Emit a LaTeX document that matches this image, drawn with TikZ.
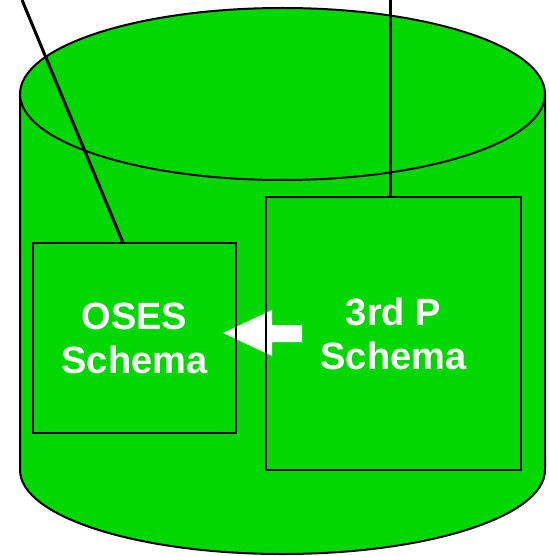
\documentclass[tikz,border=0pt]{standalone}
\usepackage{fontspec}
\setmainfont{Liberation Sans}
\usepackage{xcolor}
\usepackage{tikz}
\definecolor{dbgreen}{RGB}{0,216,0}

\begin{document}
\begin{tikzpicture}[x=1pt, y=-1pt,
    schemabox/.style={draw, line width=2pt, inner sep=0pt, align=center,
        text=white, font=\fontsize{38}{44}\selectfont\bfseries},
    link/.style={line width=3pt},
    outline/.style={draw=black, line width=2pt}]
\useasboundingbox (0,0) rectangle (548,556);

% Database cylinder
\fill[dbgreen] (20,94) rectangle (545,470);
\fill[dbgreen] (282.5,470) ellipse[x radius=262.5, y radius=84];
\draw[outline] (20,94) -- (20,470) arc[start angle=180, end angle=0, x radius=262.5, y radius=84] -- (545,94);
\draw[outline, fill=dbgreen] (282.5,94) ellipse[x radius=262.5, y radius=86];

% Copy arrow (drawn below the box outlines)
\fill[white] (302,325) -- (272,325) -- (272,310) -- (223,333) -- (272,356) -- (272,342) -- (302,342) -- cycle;

% Schemas
\node[schemabox, minimum width=203pt, minimum height=190pt] (oses) at (134.5,338) {OSES\\Schema};
\node[schemabox, minimum width=255pt, minimum height=273pt] (thirdp) at (393.5,333.5) {3rd P\\Schema};

% Incoming links
\coordinate (inleft) at (22,0);
\coordinate (inright) at (390,0);
\draw[link] (inleft) -- (oses.97);
\draw[link] (inright) -- (inright |- thirdp.north);

\end{tikzpicture}
\end{document}
